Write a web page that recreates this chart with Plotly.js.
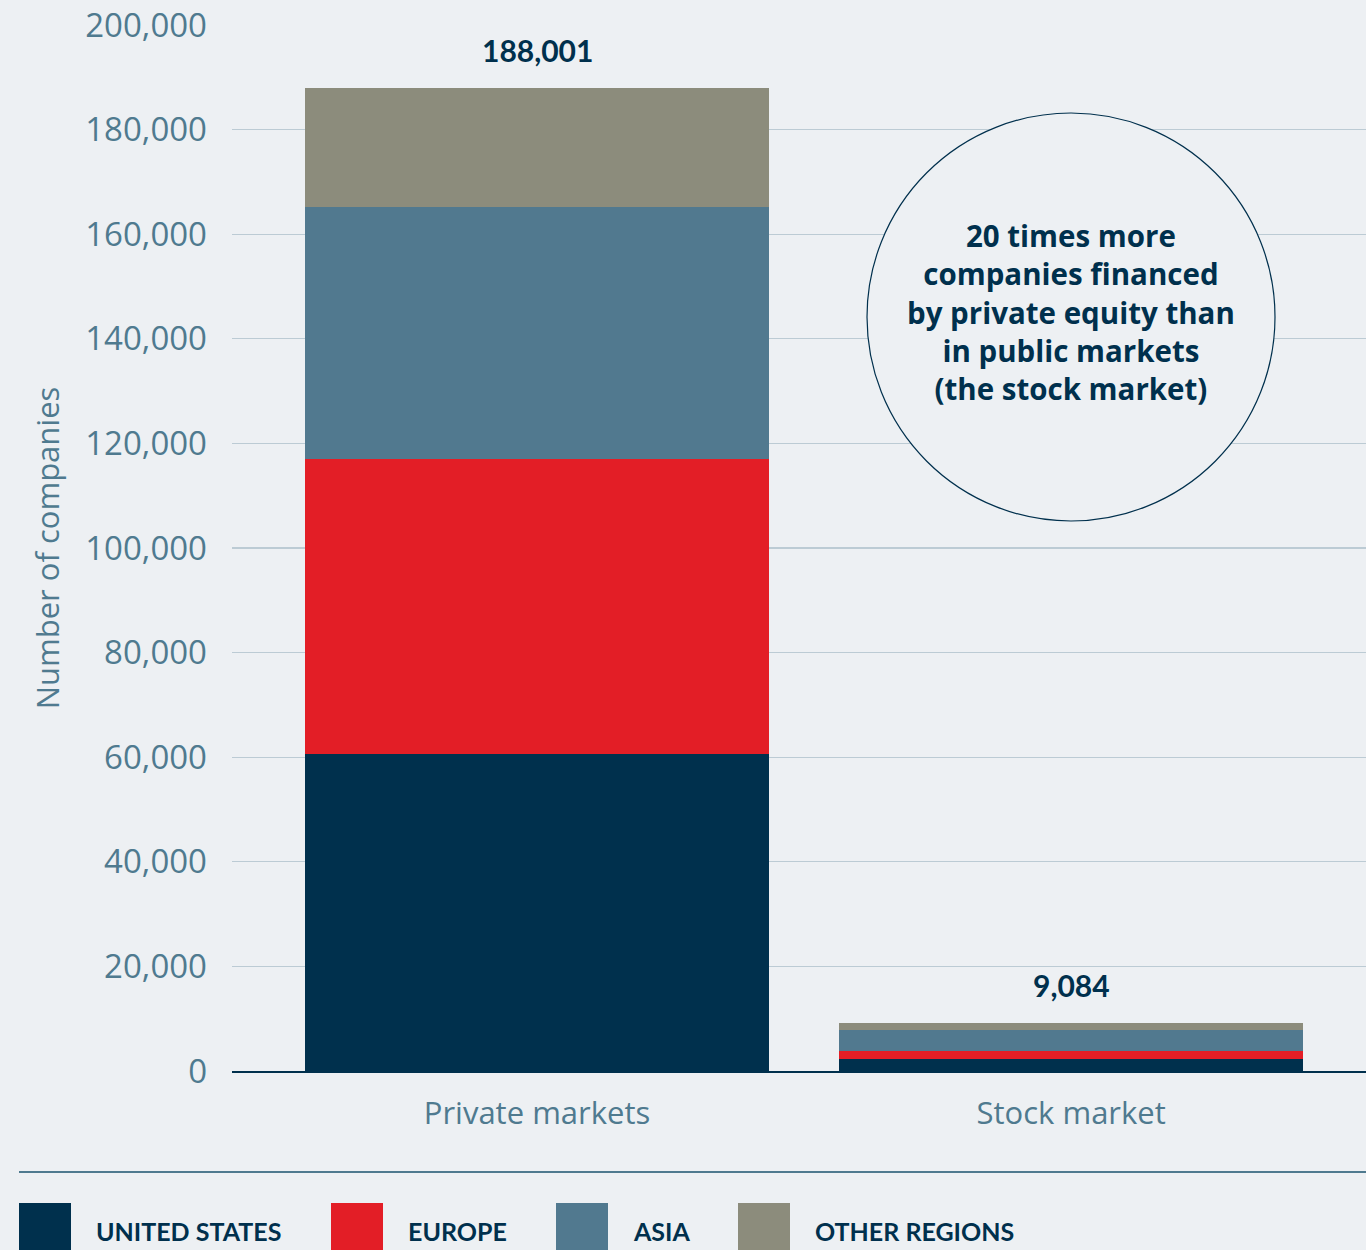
<!DOCTYPE html>
<html>
<head>
<meta charset="utf-8">
<script src="https://cdn.plot.ly/plotly-3.0.1.min.js"></script>
<style>
  html, body { margin: 0; padding: 0; background: #edf0f3; }
  #chart { width: 1366px; height: 1250px; }
</style>
</head>
<body>
<div id="chart"></div>
<script>
// ---- Data ----
const categories = ["Private markets", "Stock market"];
const regions = ["UNITED STATES", "EUROPE", "ASIA", "OTHER REGIONS"];
const unitedStates = [60700, 2250];
const europe = [56400, 1550];
const asia = [48100, 4000];
const otherRegions = [22801, 1284];
const totals = [188001, 9084];
const yTicks = [0, 20000, 40000, 60000, 80000, 100000, 120000, 140000, 160000, 180000, 200000];
const calloutText = "20 times more<br>companies financed<br>by private equity than<br>in public markets<br>(the stock market)";
const yTitle = "Number of companies";

// ---- Style ----
const colors = ["#00304d", "#e31e26", "#51798f", "#8c8c7c"];
const bg = "#edf0f3";
const navy = "#00304d";
const slate = "#4f7a8f";
const W = 1366, H = 1250;
const M = { l: 232, r: 0, t: 25, b: 179 };
const PW = W - M.l - M.r, PH = H - M.t - M.b;
const px2paperX = px => (px - M.l) / PW;
const px2paperY = py => (H - M.b - py) / PH;

const seriesVals = [unitedStates, europe, asia, otherRegions];
const traces = seriesVals.map((vals, i) => ({
  type: "bar",
  name: regions[i],
  x: categories,
  y: vals,
  width: 0.869,
  marker: { color: colors[i], line: { width: 0 } },
  hoverinfo: "x+y+name"
}));

const annotations = [];
categories.forEach((c, i) => {
  annotations.push({
    x: c, y: totals[i], xref: "x", yref: "y",
    text: "<b>" + totals[i].toLocaleString("en-US") + "</b>",
    showarrow: false, yanchor: "bottom", yshift: 18,
    font: { family: "Lato, 'Open Sans', sans-serif", size: 30, color: navy }
  });
});

// callout text
annotations.push({
  x: px2paperX(1071), y: px2paperY(312), xref: "paper", yref: "paper",
  text: "<b>" + calloutText + "</b>", showarrow: false,
  xanchor: "center", yanchor: "middle", align: "center",
  font: { family: "'Open Sans', sans-serif", size: 29.5, color: navy }
});

const shapes = [
  {
    type: "circle", xref: "paper", yref: "paper", layer: "above",
    x0: px2paperX(867), x1: px2paperX(1275),
    y0: px2paperY(113), y1: px2paperY(521),
    fillcolor: bg, line: { color: navy, width: 1.2 }
  },
  {
    type: "line", xref: "paper", yref: "paper",
    x0: px2paperX(19), x1: px2paperX(1366),
    y0: px2paperY(1172), y1: px2paperY(1172),
    line: { color: slate, width: 2 }
  }
];

// manual legend
const legendX = [19, 331, 556, 738];
regions.forEach((r, i) => {
  shapes.push({
    type: "rect", xref: "paper", yref: "paper", layer: "above",
    x0: px2paperX(legendX[i]), x1: px2paperX(legendX[i] + 52),
    y0: px2paperY(1203), y1: px2paperY(1252),
    fillcolor: colors[i], line: { width: 0 }
  });
  annotations.push({
    x: px2paperX(legendX[i] + 75), y: px2paperY(1231), xref: "paper", yref: "paper",
    text: "<b>" + r + "</b>", showarrow: false, xanchor: "left", yanchor: "middle",
    font: { family: "Lato, 'Open Sans', sans-serif", size: 25, color: navy }
  });
});

const layout = {
  width: W, height: H,
  margin: M,
  paper_bgcolor: bg, plot_bgcolor: bg,
  barmode: "stack",
  showlegend: false,
  font: { family: "'Open Sans', sans-serif", color: slate },
  xaxis: {
    type: "category",
    range: [-0.571, 1.552],
    showgrid: false,
    showline: true, linecolor: navy, linewidth: 2,
    ticks: "", ticklabelstandoff: 14,
    tickfont: { family: "'Open Sans', sans-serif", size: 31, color: slate },
    fixedrange: true
  },
  yaxis: {
    range: [0, 200000],
    tickvals: yTicks,
    tickformat: ",d",
    showgrid: true, gridcolor: "#bccbd4", gridwidth: 1.3,
    zeroline: false, showline: false,
    ticks: "", ticklabelstandoff: 24,
    tickfont: { family: "'Open Sans', sans-serif", size: 33, color: slate },
    title: { text: yTitle, standoff: 16, font: { family: "'Open Sans', sans-serif", size: 31, color: slate } },
    fixedrange: true
  },
  shapes: shapes,
  annotations: annotations
};

Plotly.newPlot("chart", traces, layout, { displayModeBar: false, staticPlot: true });
</script>
</body>
</html>
